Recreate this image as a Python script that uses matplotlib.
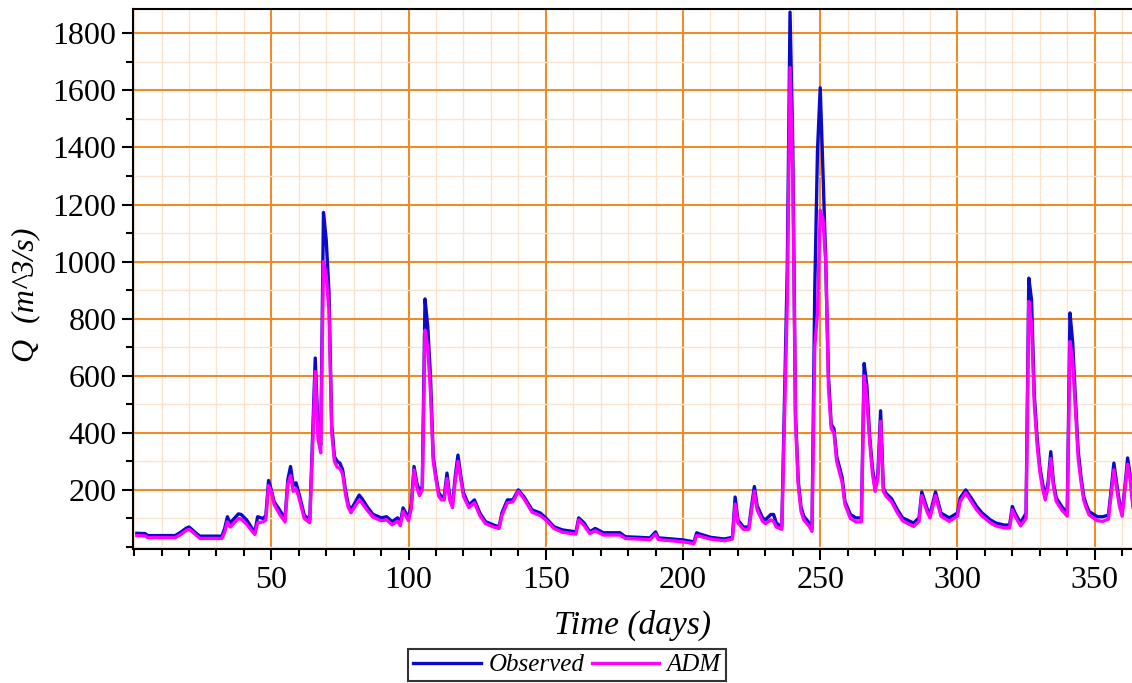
import numpy as np
import matplotlib.pyplot as plt
from matplotlib.ticker import MultipleLocator

# daily discharge (day, observed, ADM)
days = [1, 4, 5, 10, 15, 17, 19, 20, 21, 23, 24, 28, 32, 33,
        34, 35, 36, 38, 39, 41, 43, 44, 45, 47, 48, 49, 50, 51, 53, 55,
        56, 57, 58, 59, 60, 62, 64, 65, 66, 67, 68, 69, 70, 71, 72, 73,
        74, 75, 76, 77, 78, 79, 80, 82, 83, 85, 87, 90, 92, 94, 96, 97,
        98, 100, 101, 102, 103, 104, 105, 106, 107, 108, 109, 110, 111, 112,
        113, 114, 115, 116, 117, 118, 119, 120, 122, 124, 126, 128, 131, 133,
        134, 136, 138, 140, 142, 145, 148, 150, 153, 156, 161, 162, 164, 166,
        168, 171, 177, 179, 188, 190, 191, 200, 204, 205, 206, 210, 215, 218,
        219, 220, 222, 224, 225, 226, 227, 229, 230, 232, 233, 234, 236, 238,
        239, 240, 241, 242, 243, 244, 246, 247, 248, 249, 250, 251, 252, 253,
        254, 255, 256, 258, 259, 261, 263, 265, 266, 267, 268, 269, 270, 271,
        272, 273, 274, 276, 278, 280, 284, 286, 287, 289, 290, 292, 294, 297,
        300, 301, 303, 305, 307, 309, 312, 314, 317, 319, 320, 321, 323, 325,
        326, 327, 328, 329, 330, 331, 332, 333, 334, 335, 336, 338, 340, 341,
        342, 343, 344, 345, 346, 347, 348, 351, 353, 355, 356, 357, 358, 359,
        360, 361, 362, 363, 364]

observed = [48, 47, 40, 40, 40, 52, 66, 70, 62, 45, 38, 38, 38, 65,
            106, 83, 95, 116, 114, 95, 65, 52, 106, 100, 110, 233, 200, 159, 130, 100,
            235, 282, 215, 225, 190, 112, 95, 375, 662, 420, 358, 1172, 1076, 895, 430, 317,
            300, 294, 270, 200, 150, 130, 147, 182, 170, 140, 115, 102, 106, 89, 102, 84,
            137, 102, 150, 282, 225, 194, 212, 869, 772, 597, 317, 247, 190, 177,
            177, 259, 177, 147, 247, 322, 252, 190, 147, 165, 119, 89, 77, 71,
            119, 165, 165, 200, 177, 130, 119, 102, 71, 60, 53, 102, 84, 53,
            65, 50, 50, 36, 32, 53, 32, 25, 18, 50, 46, 34, 28, 34,
            175, 95, 70, 70, 145, 212, 145, 102, 95, 114, 114, 84, 70, 981,
            1874, 1400, 465, 231, 140, 108, 84, 65, 895, 1388, 1609, 1314, 1006, 600,
            430, 415, 317, 243, 160, 114, 102, 102, 643, 564, 391, 280, 206, 255,
            477, 206, 188, 169, 133, 102, 84, 102, 193, 133, 114, 193, 119, 102,
            119, 172, 200, 172, 142, 119, 95, 84, 77, 77, 142, 119, 84, 119,
            942, 866, 533, 387, 282, 224, 177, 224, 334, 224, 172, 142, 119, 820,
            715, 515, 336, 247, 177, 147, 124, 106, 106, 112, 200, 294, 224, 158,
            119, 210, 312, 247, 142]

adm = [40, 39, 33, 33, 33, 44, 58, 62, 55, 38, 30, 30, 30, 52,
       88, 70, 80, 100, 98, 80, 55, 44, 85, 88, 95, 215, 195, 150, 115, 88,
       220, 250, 195, 205, 175, 100, 85, 340, 615, 380, 330, 1000, 950, 830, 400, 300,
       280, 275, 255, 185, 140, 120, 135, 165, 155, 128, 105, 92, 95, 78, 90, 75,
       125, 92, 135, 270, 210, 180, 200, 760, 700, 540, 300, 235, 178, 165,
       165, 240, 165, 138, 230, 300, 240, 178, 138, 155, 110, 82, 70, 65,
       110, 155, 158, 195, 170, 122, 110, 95, 65, 52, 45, 95, 75, 47,
       57, 42, 42, 30, 26, 45, 26, 18, 12, 40, 38, 28, 22, 28,
       150, 85, 62, 62, 130, 195, 130, 90, 82, 95, 90, 70, 62, 860,
       1680, 1300, 440, 215, 125, 95, 72, 55, 700, 820, 1180, 1150, 1000, 560,
       415, 400, 300, 225, 150, 100, 88, 88, 600, 520, 370, 260, 195, 240,
       440, 195, 178, 158, 122, 92, 72, 90, 180, 122, 102, 180, 108, 90,
       108, 160, 190, 160, 130, 108, 85, 74, 67, 67, 130, 108, 74, 100,
       860, 780, 500, 360, 265, 205, 165, 210, 310, 210, 160, 130, 108, 720,
       650, 480, 310, 230, 165, 135, 112, 92, 90, 98, 185, 270, 205, 145,
       108, 200, 290, 230, 135]

x_ticks = [50, 100, 150, 200, 250, 300, 350]
y_ticks = [200, 400, 600, 800, 1000, 1200, 1400, 1600, 1800]

plt.rcParams['font.family'] = ['Liberation Serif', 'DejaVu Serif']

fig = plt.figure(figsize=(11.32, 6.83), dpi=100)
ax = fig.add_axes([133 / 1132, 1 - 549 / 683, 1 - 133 / 1132, (549 - 9) / 683])

ax.plot(days, observed, color='#0a0ac8', lw=2.4, label='Observed')
ax.plot(days, adm, color='#ff00ff', lw=2.4, label='ADM')

ax.set_xlim(-0.4, 363.6)
ax.set_ylim(-7, 1885)
ax.set_xticks(x_ticks)
ax.set_yticks(y_ticks)
ax.xaxis.set_minor_locator(MultipleLocator(10))
ax.yaxis.set_minor_locator(MultipleLocator(100))

ax.grid(which='major', color='#f08c28', lw=1.5, zorder=0)
ax.grid(which='minor', color='#fae3cf', lw=1.0, zorder=0)
ax.set_axisbelow(True)

ax.spines['right'].set_visible(False)
for s in ['left', 'bottom', 'top']:
    ax.spines[s].set_linewidth(1.5)

ax.tick_params(which='major', length=8, width=1.5, labelsize=23, pad=4)
ax.tick_params(which='minor', length=5, width=1.5)

ax.set_xlabel('Time (days)', fontsize=24, style='italic', labelpad=11)
ax.set_ylabel('Q  (m^3/s)', fontsize=23, style='italic', labelpad=14)
ax.yaxis.set_label_coords(-0.093, 0.47)

leg = fig.legend(loc='center', bbox_to_anchor=(567 / 1132, 1 - 665 / 683),
                 prop={'style': 'italic', 'size': 18},
                 ncol=2, frameon=True, fancybox=False, handlelength=2.7,
                 handletextpad=0.3, columnspacing=0.3, borderpad=0.2)
leg.get_frame().set_edgecolor('black')
leg.get_frame().set_linewidth(1.5)

fig.savefig('out.png', dpi=100)
